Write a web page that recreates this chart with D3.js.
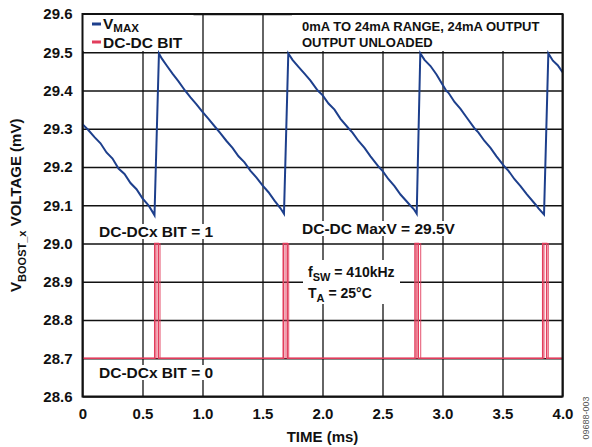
<!DOCTYPE html>
<html>
<head>
<meta charset="utf-8">
<script src="https://cdn.jsdelivr.net/npm/d3@7"></script>
<style>
  body { margin: 0; background: #fff; }
  text { font-family: "Liberation Sans", Arial, sans-serif; font-weight: bold; fill: #111; }
</style>
</head>
<body>
<div id="chart"></div>
<script>
// axis ticks
var xTicks = [0, 0.5, 1.0, 1.5, 2.0, 2.5, 3.0, 3.5, 4.0];
var yTicks = [28.6, 28.7, 28.8, 28.9, 29.0, 29.1, 29.2, 29.3, 29.4, 29.5, 29.6];

// V_MAX trace (ms, mV)
var vTime = [0.00, 0.05, 0.10, 0.15, 0.20, 0.25, 0.30, 0.35, 0.40, 0.45, 0.50, 0.55, 0.585, 0.600,
             0.637, 0.66, 0.70, 0.75, 0.80, 0.854, 0.90, 0.95, 1.00, 1.05, 1.118, 1.15, 1.20, 1.25, 1.30,
             1.35, 1.40, 1.45, 1.50, 1.55, 1.60, 1.65, 1.679,
             1.715, 1.75, 1.80, 1.85, 1.90, 1.96, 2.00, 2.05, 2.10, 2.15, 2.22, 2.25, 2.30, 2.35, 2.40,
             2.47, 2.50, 2.55, 2.60, 2.65, 2.73, 2.76, 2.785,
             2.815, 2.85, 2.90, 2.95, 3.03, 3.05, 3.10, 3.15, 3.20, 3.27, 3.30, 3.35, 3.40, 3.45, 3.52,
             3.55, 3.60, 3.65, 3.70, 3.78, 3.80, 3.846,
             3.882, 3.92, 3.96, 4.00];
var vMax = [29.312, 29.296, 29.278, 29.262, 29.238, 29.222, 29.196, 29.182, 29.158, 29.142, 29.118, 29.100, 29.082, 29.074,
            29.497, 29.484, 29.466, 29.444, 29.424, 29.400, 29.382, 29.364, 29.344, 29.326, 29.300, 29.288, 29.268, 29.250, 29.228,
            29.212, 29.190, 29.172, 29.152, 29.134, 29.112, 29.092, 29.078,
            29.497, 29.480, 29.462, 29.444, 29.426, 29.400, 29.388, 29.366, 29.350, 29.326, 29.300, 29.290, 29.268, 29.250, 29.228,
            29.200, 29.190, 29.168, 29.150, 29.128, 29.100, 29.090, 29.078,
            29.497, 29.480, 29.464, 29.442, 29.400, 29.394, 29.370, 29.352, 29.330, 29.300, 29.290, 29.268, 29.250, 29.228, 29.200,
            29.190, 29.168, 29.150, 29.130, 29.100, 29.092, 29.076,
            29.497, 29.478, 29.466, 29.448];

// DC-DC BIT trace, two overlaid sweeps (ms)
var bitLow = 28.7, bitHigh = 29.0;
var riseA = [0.602, 1.673, 2.771, 3.835];
var fallA = [0.632, 1.706, 2.798, 3.868];
var riseB = [0.613, 1.688, 2.785, 3.846];
var fallB = [0.646, 1.718, 2.818, 3.882];

const width = 592, height = 447;
const plotLeft = 82.5, plotRight = 562.5, plotTop = 14, plotBottom = 396.5;
const blue = "#1d3f8c", red = "#e23d5c";

const xScale = d3.scaleLinear().domain([0, 4]).range([plotLeft, plotRight]);
const yScale = d3.scaleLinear().domain([28.6, 29.6]).range([plotBottom, plotTop]);

let svg = d3.select('#chart').append('svg')
    .attr('width', width)
    .attr('height', height);

// grid + tick labels
let xAxis = svg.append('g')
    .attr('transform', `translate(0, ${plotBottom})`)
    .call(d3.axisBottom(xScale).tickValues(xTicks).tickSize(-(plotBottom - plotTop)).tickPadding(12)
        .tickFormat(d => d === 0 ? "0" : d.toFixed(1)));
let yAxis = svg.append('g')
    .attr('transform', `translate(${plotLeft}, 0)`)
    .call(d3.axisLeft(yScale).tickValues(yTicks).tickSize(-(plotRight - plotLeft)).tickPadding(10)
        .tickFormat(d => d.toFixed(1)));

[xAxis, yAxis].forEach(function(ax) {
    ax.select('.domain').remove();
    ax.selectAll('line').attr('stroke', '#111').attr('stroke-width', 1.3);
    ax.selectAll('text')
        .style('font-family', '"Liberation Sans", Arial, sans-serif')
        .style('font-weight', 'bold')
        .style('font-size', '15px')
        .attr('fill', '#111');
});

// axis titles
svg.append('text')
    .attr('x', (plotLeft + plotRight) / 2)
    .attr('y', 442)
    .attr('text-anchor', 'middle')
    .style('font-size', '15px')
    .text('TIME (ms)');

let yTitle = svg.append('text')
    .attr('transform', `translate(21, ${(plotTop + plotBottom) / 2}) rotate(-90)`)
    .attr('text-anchor', 'middle')
    .style('font-size', '15px');
yTitle.append('tspan').text('V');
yTitle.append('tspan').attr('dy', 5).style('font-size', '11px').text('BOOST_x');
yTitle.append('tspan').attr('dy', -5).text(' VOLTAGE (mV)');

// white boxes that hide the grid
let bg = svg.append('g');
bg.append('rect').attr('x', plotLeft).attr('y', plotTop).attr('width', 111).attr('height', 37).attr('fill', '#fff');
bg.append('rect').attr('x', 292).attr('y', plotTop).attr('width', plotRight - 292).attr('height', 37).attr('fill', '#fff');
bg.append('rect').attr('x', 303).attr('y', 260).attr('width', 97).attr('height', 44).attr('fill', '#fff');

// annotations with white background
let notesG = svg.append('g');
function label(x, y, size, parts) {
    let t = notesG.append('text').attr('x', x).attr('y', y).style('font-size', size + 'px');
    parts.forEach(function(p) {
        let s = t.append('tspan').text(p[0]);
        if (p[1]) s.attr('dy', p[1]);
        if (p[2]) s.style('font-size', p[2] + 'px');
    });
    return t;
}
let notes = [
    label(99, 237, 15.5, [["DC-DCx BIT = 1"]]),
    label(99, 378, 15.5, [["DC-DCx BIT = 0"]]),
    label(302, 234, 15.5, [["DC-DC MaxV = 29.5V"]])
];
label(308, 277, 14, [["f"], ["SW", 4, 11], [" = 410kHz", -4]]);
label(308, 298, 14, [["T"], ["A", 4, 11], [" = 25°C", -4]]);
notes.forEach(function(n) {
    let b = n.node().getBBox();
    bg.append('rect').attr('x', b.x - 2).attr('y', b.y + 1).attr('width', b.width + 4)
        .attr('height', b.height - 2).attr('fill', '#fff');
});

notesG.append('text').attr('x', 302).attr('y', 31).style('font-size', '13px').text('0mA TO 24mA RANGE, 24mA OUTPUT');
notesG.append('text').attr('x', 302).attr('y', 47).style('font-size', '13px').text('OUTPUT UNLOADED');

// DC-DC BIT traces
function bitPoints(rise, fall) {
    let pts = [[0, bitLow]];
    for (let i = 0; i < rise.length; i++) {
        pts.push([rise[i], bitLow], [rise[i], bitHigh], [fall[i], bitHigh], [fall[i], bitLow]);
    }
    pts.push([4, bitLow]);
    return pts;
}
const line = d3.line().x(d => xScale(d[0])).y(d => yScale(d[1]));
svg.append('path')
    .datum(bitPoints(riseB, fallB))
    .attr('fill', 'none').attr('stroke', red).attr('stroke-width', 1.2).attr('opacity', 0.75)
    .attr('d', line);
svg.append('path')
    .datum(bitPoints(riseA, fallA))
    .attr('fill', 'none').attr('stroke', red).attr('stroke-width', 1.5)
    .attr('d', line);

// V_MAX trace
svg.append('path')
    .datum(vTime.map((t, i) => [t, vMax[i]]))
    .attr('fill', 'none').attr('stroke', blue).attr('stroke-width', 2)
    .attr('d', line);

// frame
svg.append('rect')
    .attr('x', plotLeft).attr('y', plotTop).attr('width', plotRight - plotLeft).attr('height', plotBottom - plotTop)
    .attr('fill', 'none').attr('stroke', '#111').attr('stroke-width', 2);

// legend
let legend = svg.append('g');
legend.append('line').attr('x1', 92).attr('x2', 101).attr('y1', 24).attr('y2', 24).attr('stroke', blue).attr('stroke-width', 3);
legend.append('line').attr('x1', 92).attr('x2', 101).attr('y1', 42).attr('y2', 42).attr('stroke', red).attr('stroke-width', 3);
let lv = legend.append('text').attr('x', 103).attr('y', 29).style('font-size', '15.5px');
lv.append('tspan').text('V');
lv.append('tspan').attr('dy', 3).style('font-size', '11.5px').text('MAX');
legend.append('text').attr('x', 103).attr('y', 48).style('font-size', '15.5px').text('DC-DC BIT');

// figure number
svg.append('text')
    .attr('transform', 'translate(589, 418) rotate(-90)')
    .attr('text-anchor', 'middle')
    .style('font-size', '9px').style('font-weight', 'normal').style('fill', '#555')
    .text('09688-003');
</script>
</body>
</html>
